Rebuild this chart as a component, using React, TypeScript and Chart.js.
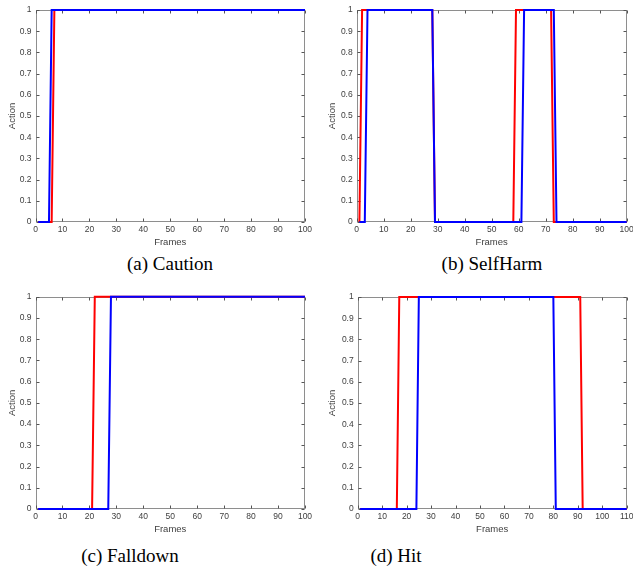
import React, { useEffect, useRef } from "react";
import { Chart, registerables } from "chart.js";

Chart.register(...registerables);

type Pt = [number, number];

// Data: [frame, action] breakpoints of each step series
const cautionRed: Pt[] = [[1, 0], [6, 0], [7, 1], [100, 1]];
const cautionBlue: Pt[] = [[1, 0], [5, 0], [6, 1], [100, 1]];

const selfHarmRed: Pt[] = [[1, 0], [2, 1], [28, 1], [29, 0], [58, 0], [59, 1], [72, 1], [73, 0], [100, 0]];
const selfHarmBlue: Pt[] = [[1, 0], [3, 0], [4, 1], [28, 1], [29, 0], [61, 0], [62, 1], [73, 1], [74, 0], [100, 0]];

const falldownRed: Pt[] = [[1, 0], [21, 0], [22, 1], [100, 1]];
const falldownBlue: Pt[] = [[1, 0], [27, 0], [28, 1], [100, 1]];

const hitRed: Pt[] = [[1, 0], [16, 0], [17, 1], [91, 1], [92, 0], [110, 0]];
const hitBlue: Pt[] = [[1, 0], [24, 0], [25, 1], [80, 1], [81, 0], [110, 0]];

const actionTickLabels = ["0", "0.1", "0.2", "0.3", "0.4", "0.5", "0.6", "0.7", "0.8", "0.9", "1"];
const frameStep = 10;

const captions = ["(a) Caution", "(b) SelfHarm", "(c) Falldown", "(d) Hit"];

const TEXT = "#404040";
const BOX = "#8e8e8e";

const matlabAxes = {
  id: "matlabAxes",
  beforeDatasetsDraw(chart: any) {
    const { ctx, chartArea, scales } = chart;
    const l = Math.round(chartArea.left) + 0.5;
    const r = Math.round(chartArea.right) - 0.5;
    const t = Math.round(chartArea.top) + 0.5;
    const b = Math.round(chartArea.bottom) - 0.5;
    ctx.save();
    ctx.strokeStyle = BOX;
    ctx.lineWidth = 1;
    ctx.strokeRect(l, t, r - l, b - t);
    ctx.strokeStyle = "#555";
    const len = 3;
    ctx.beginPath();
    scales.x.ticks.forEach((tk: any) => {
      const px = Math.round(scales.x.getPixelForValue(tk.value)) + 0.5;
      ctx.moveTo(px, b);
      ctx.lineTo(px, b - len);
      ctx.moveTo(px, t);
      ctx.lineTo(px, t + len);
    });
    scales.y.ticks.forEach((tk: any) => {
      const py = Math.round(scales.y.getPixelForValue(tk.value)) + 0.5;
      ctx.moveTo(l, py);
      ctx.lineTo(l + len, py);
      ctx.moveTo(r, py);
      ctx.lineTo(r - len, py);
    });
    ctx.stroke();
    ctx.restore();
  },
};

type PanelProps = {
  left: number;
  top: number;
  width: number;
  height: number;
  padTop: number;
  padRight: number;
  yAxisW: number;
  xAxisH: number;
  xMax: number;
  red: Pt[];
  blue: Pt[];
};

function Panel(p: PanelProps) {
  const ref = useRef<HTMLCanvasElement>(null);
  useEffect(() => {
    const chart = new Chart(ref.current as HTMLCanvasElement, {
      type: "line",
      data: {
        datasets: [
          {
            data: p.blue.map(([x, y]) => ({ x, y })),
            borderColor: "#0000ff",
            borderWidth: 2,
            pointRadius: 0,
            tension: 0,
            fill: false,
            clip: false,
          },
          {
            data: p.red.map(([x, y]) => ({ x, y })),
            borderColor: "#ff0000",
            borderWidth: 2,
            pointRadius: 0,
            tension: 0,
            fill: false,
            clip: false,
          },
        ],
      },
      options: {
        animation: false,
        responsive: false,
        maintainAspectRatio: false,
        layout: { padding: { top: p.padTop, right: p.padRight, left: 0, bottom: 0 } },
        plugins: { legend: { display: false }, tooltip: { enabled: false } },
        scales: {
          x: {
            type: "linear",
            min: 0,
            max: p.xMax,
            ticks: {
              stepSize: frameStep,
              color: TEXT,
              font: { family: "Liberation Sans", size: 8.5 },
              padding: 3,
              maxRotation: 0,
              autoSkip: false,
            },
            grid: { display: false, drawTicks: false },
            border: { display: false },
            title: {
              display: true,
              text: "Frames",
              color: TEXT,
              font: { family: "Liberation Sans", size: 9.5 },
              padding: { top: 0, bottom: 1.9 },
            },
            afterFit: (s: any) => {
              s.height = p.xAxisH;
              s.paddingLeft = 0;
              s.paddingRight = 0;
            },
          },
          y: {
            type: "linear",
            min: 0,
            max: 1,
            ticks: {
              stepSize: 0.1,
              color: TEXT,
              font: { family: "Liberation Sans", size: 8.5 },
              padding: 4,
              callback: (v: any) => actionTickLabels[Math.round(Number(v) * 10)],
            },
            grid: { display: false, drawTicks: false },
            border: { display: false },
            title: {
              display: true,
              text: "Action",
              color: TEXT,
              font: { family: "Liberation Sans", size: 9.5 },
              padding: { top: 6.5, bottom: 0 },
            },
            afterFit: (s: any) => {
              s.width = p.yAxisW;
              s.paddingTop = 0;
              s.paddingBottom = 0;
            },
          },
        },
      },
      plugins: [matlabAxes],
    } as any);
    return () => chart.destroy();
  }, []);
  return (
    <div style={{ position: "absolute", left: p.left, top: p.top, width: p.width, height: p.height }}>
      <canvas ref={ref} width={p.width} height={p.height} style={{ width: p.width, height: p.height, display: "block" }} />
    </div>
  );
}

function Caption({ text, x, y }: { text: string; x: number; y: number }) {
  return (
    <div
      style={{
        position: "absolute",
        left: x,
        top: y,
        transform: "translate(-50%, -50%)",
        whiteSpace: "nowrap",
        fontFamily: "'Liberation Serif', serif",
        fontSize: 19,
        color: "#000",
        lineHeight: 1,
      }}
    >
      {text}
    </div>
  );
}

export default function App() {
  return (
    <div style={{ position: "absolute", left: 0, top: 0, width: 633, height: 576, background: "#fff", overflow: "hidden" }}>
      <Panel left={0} top={0} width={316} height={250} padTop={10} padRight={11} yAxisW={35.5} xAxisH={28} xMax={100} red={cautionRed} blue={cautionBlue} />
      <Panel left={320} top={0} width={313} height={250} padTop={10} padRight={6.3} yAxisW={36.7} xAxisH={28} xMax={100} red={selfHarmRed} blue={selfHarmBlue} />
      <Panel left={0} top={285} width={316} height={252} padTop={11.7} padRight={11} yAxisW={35.5} xAxisH={28} xMax={100} red={falldownRed} blue={falldownBlue} />
      <Panel left={320} top={285} width={313} height={252} padTop={12} padRight={6.3} yAxisW={37.7} xAxisH={28} xMax={110} red={hitRed} blue={hitBlue} />
      <Caption text={captions[0]} x={170} y={263} />
      <Caption text={captions[1]} x={492} y={263} />
      <Caption text={captions[2]} x={130} y={555} />
      <Caption text={captions[3]} x={396} y={555} />
    </div>
  );
}
